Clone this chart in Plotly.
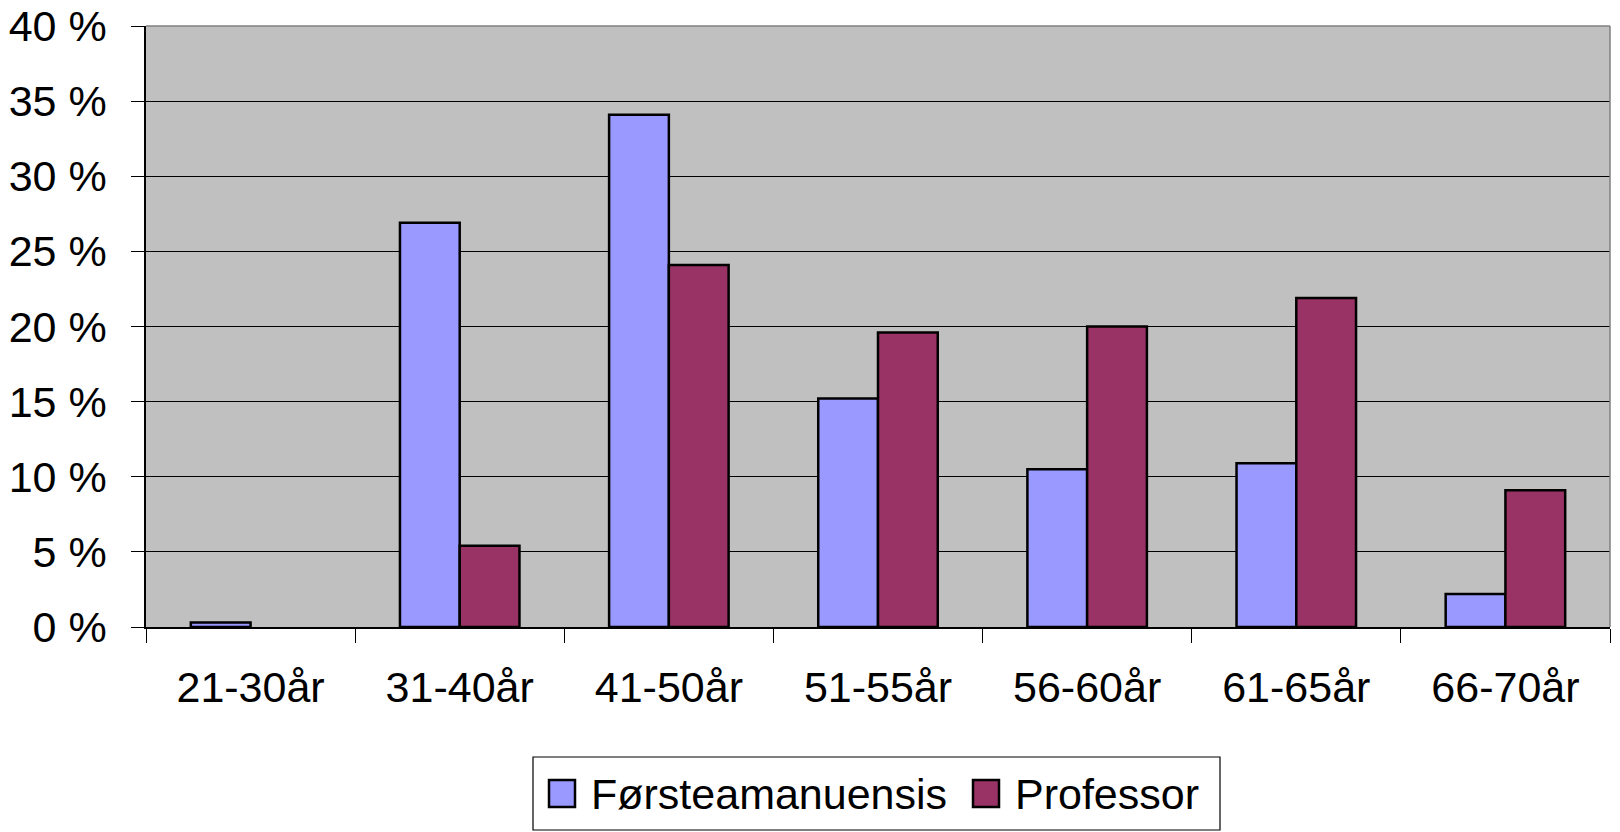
import plotly.graph_objects as go

# Age groups and share of staff (%) in each position
categories = ["21-30år", "31-40år", "41-50år", "51-55år", "56-60år", "61-65år", "66-70år"]
forsteamanuensis = [0.3, 26.9, 34.1, 15.2, 10.5, 10.9, 2.2]
professor = [0.0, 5.4, 24.1, 19.6, 20.0, 21.9, 9.1]
series_names = ["Førsteamanuensis", "Professor"]
y_ticks = [0, 5, 10, 15, 20, 25, 30, 35, 40]
y_tick_labels = [f"{v} %" for v in y_ticks]

BLUE = "#9999FF"
PLUM = "#993366"
FONT = "Liberation Sans, Arial, sans-serif"

W, H = 1620, 832
ML, MR, MT, MB = 146, 10, 26, 205
PW, PH = W - ML - MR, H - MT - MB


def px_x(x):
    return (x - ML) / PW


def px_y(y):
    return (H - MB - y) / PH


def outline_widths(values):
    # empty bars get no outline
    return [2.5 if v > 0 else 0 for v in values]


fig = go.Figure()
fig.add_trace(go.Bar(x=categories, y=forsteamanuensis, name=series_names[0],
                     marker=dict(color=BLUE, line=dict(color="black",
                                                       width=outline_widths(forsteamanuensis))),
                     showlegend=False))
fig.add_trace(go.Bar(x=categories, y=professor, name=series_names[1],
                     marker=dict(color=PLUM, line=dict(color="black",
                                                       width=outline_widths(professor))),
                     showlegend=False))

fig.update_layout(
    width=W, height=H,
    margin=dict(l=ML, r=MR, t=MT, b=MB, autoexpand=False),
    paper_bgcolor="white",
    plot_bgcolor="#C0C0C0",
    barmode="group",
    bargap=1.5 / 3.5,
    bargroupgap=0,
    font=dict(family=FONT, size=43, color="black"),
    showlegend=False,
)
fig.update_xaxes(
    type="category",
    automargin=False,
    tickson="boundaries",
    ticks="outside", ticklen=14, tickwidth=1.2, tickcolor="black",
    showline=True, linecolor="black", linewidth=1.5,
    showgrid=False,
    tickfont=dict(size=43),
    ticklabelstandoff=22,
)
fig.update_yaxes(
    range=[0, 40],
    automargin=False,
    tickvals=y_ticks, ticktext=y_tick_labels,
    ticks="outside", ticklen=13, tickwidth=1.2, tickcolor="black",
    showline=True, linecolor="black", linewidth=1.5,
    showgrid=True, gridcolor="black", gridwidth=1,
    zeroline=False,
    tickfont=dict(size=43),
    ticklabelstandoff=16,
)

# Plot-area frame on the top and right sides
fig.add_shape(type="line", xref="paper", yref="paper", x0=0, x1=1, y0=1, y1=1,
              line=dict(color="#808080", width=1.5))
fig.add_shape(type="line", xref="paper", yref="paper", x0=1, x1=1, y0=0, y1=1,
              line=dict(color="#808080", width=1.5))

# Legend box with colour keys
fig.add_shape(type="rect", xref="paper", yref="paper",
              x0=px_x(533), x1=px_x(1220), y0=px_y(757), y1=px_y(830),
              line=dict(color="black", width=1.2), fillcolor="white")
legend_items = [(series_names[0], BLUE, 549, 589), (series_names[1], PLUM, 973, 1013)]
for name, color, sq_x, tx_x in legend_items:
    fig.add_shape(type="rect", xref="paper", yref="paper",
                  x0=px_x(sq_x), x1=px_x(sq_x + 26), y0=px_y(780), y1=px_y(807),
                  line=dict(color="black", width=2.5), fillcolor=color)
    fig.add_annotation(text=name, xref="paper", yref="paper",
                       x=px_x(tx_x), y=px_y(794), xanchor="left", yanchor="middle",
                       showarrow=False, font=dict(family=FONT, size=43, color="black"))

fig.write_html("out.html")
